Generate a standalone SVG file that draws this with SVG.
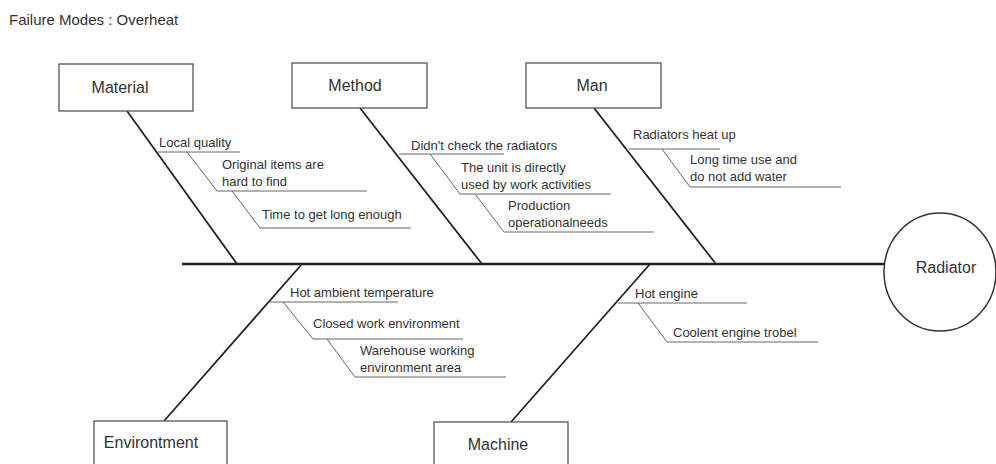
<svg xmlns="http://www.w3.org/2000/svg" width="996" height="464" viewBox="0 0 996 464">
<style>
text{font-family:"Liberation Sans",Arial,sans-serif;fill:#333}
.title{font-size:15px}
.box{fill:#fff;stroke:#555;stroke-width:1.3}
.lbl{font-size:16px;text-anchor:middle}
.sub{font-size:13px}
.bone{stroke:#222;stroke-width:1.8;fill:none}
.spine{stroke:#222;stroke-width:2.6;fill:none}
.twig{stroke:#666;stroke-width:1;fill:none}
</style>
<rect width="996" height="464" fill="#fff"/>
<text class="title" x="9" y="25">Failure Modes : Overheat</text>
<g id="connectors">
<line class="spine" x1="182" y1="264" x2="885" y2="264"/>
<line class="bone" x1="127" y1="111" x2="237" y2="264"/>
<line class="bone" x1="360" y1="108" x2="482" y2="264"/>
<line class="bone" x1="594" y1="108" x2="716" y2="264"/>
<line class="bone" x1="302" y1="264" x2="164" y2="421"/>
<line class="bone" x1="650" y1="264" x2="511" y2="422"/>
<polyline class="twig" points="158,152 240,152"/>
<polyline class="twig" points="187,152 217,191 367,191"/>
<polyline class="twig" points="232,191 260,228 411,228"/>
<polyline class="twig" points="399,154 504,154"/>
<polyline class="twig" points="430,154 460,194 611,194"/>
<polyline class="twig" points="475,194 504,232 654,232"/>
<polyline class="twig" points="629,149 720,149"/>
<polyline class="twig" points="662,149 690,187 841,187"/>
<polyline class="twig" points="270,302 398,302"/>
<polyline class="twig" points="283,302 313,339 463,339"/>
<polyline class="twig" points="327,339 355,377 506,377"/>
<polyline class="twig" points="618,303 747,303"/>
<polyline class="twig" points="638,303 667,342 818,342"/>
</g>
<g id="material">
<rect class="box" x="59" y="64" width="134" height="47"/>
<text class="lbl" x="120" y="93">Material</text>
<text class="sub" x="159" y="147">Local quality</text>
<text class="sub" x="222" y="169">Original items are</text>
<text class="sub" x="222" y="186">hard to find</text>
<text class="sub" x="262" y="219">Time to get long enough</text>
</g>
<g id="method">
<rect class="box" x="292" y="63" width="135" height="45"/>
<text class="lbl" x="355" y="91">Method</text>
<text class="sub" x="411" y="150">Didn't check the radiators</text>
<text class="sub" x="461" y="172">The unit is directly</text>
<text class="sub" x="461" y="189">used by work activities</text>
<text class="sub" x="508" y="210">Production</text>
<text class="sub" x="508" y="227">operationalneeds</text>
</g>
<g id="man">
<rect class="box" x="526" y="63" width="135" height="45"/>
<text class="lbl" x="592" y="91">Man</text>
<text class="sub" x="633" y="139">Radiators heat up</text>
<text class="sub" x="690" y="164">Long time use and</text>
<text class="sub" x="690" y="181">do not add water</text>
</g>
<g id="environment">
<rect class="box" x="94" y="421" width="133" height="60"/>
<text class="lbl" x="151" y="448">Environtment</text>
<text class="sub" x="290" y="297">Hot ambient temperature</text>
<text class="sub" x="313" y="328">Closed work environment</text>
<text class="sub" x="360" y="355">Warehouse working</text>
<text class="sub" x="360" y="372">environment area</text>
</g>
<g id="machine">
<rect class="box" x="434" y="422" width="134" height="60"/>
<text class="lbl" x="498" y="450">Machine</text>
<text class="sub" x="635" y="298">Hot engine</text>
<text class="sub" x="673" y="337">Coolent engine trobel</text>
</g>
<g id="radiator">
<ellipse cx="940" cy="272" rx="56" ry="59" fill="#fff" stroke="#333" stroke-width="1.5"/>
<text class="lbl" x="946" y="273">Radiator</text>
</g>
</svg>
